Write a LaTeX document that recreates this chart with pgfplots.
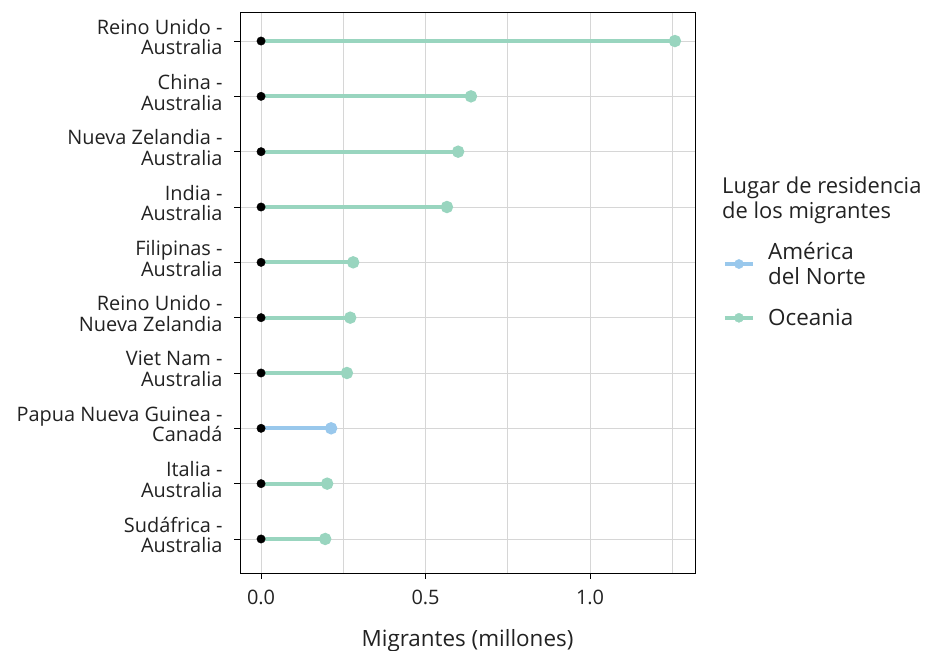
\documentclass[border=0pt]{standalone}
\usepackage{pgfplots}
\pgfplotsset{compat=1.18}
\usepackage{fontspec}
\setmainfont{Open Sans}
\definecolor{oce}{HTML}{99D5BF}
\definecolor{amn}{HTML}{99C8EC}
\definecolor{gridc}{HTML}{D6D6D6}
\definecolor{txt}{HTML}{222222}
\begin{document}
\begin{tikzpicture}[x=1bp,y=1bp]
\path[use as bounding box] (0,0) rectangle (925,651);
\begin{axis}[at={(240bp,78bp)}, anchor=south west, scale only axis,
  width=455bp, height=561bp,
  xmin=-0.064, xmax=1.319, ymin=0.385, ymax=10.525,
  xtick={0,0.5,1}, minor xtick={0.25,0.75,1.25},
  xticklabels={0.0,0.5,1.0},
  ytick={1,...,10},
  yticklabels={{Sudáfrica -\\Australia},{Italia -\\Australia},{Papua Nueva Guinea -\\Canadá},{Viet Nam -\\Australia},{Reino Unido -\\Nueva Zelandia},{Filipinas -\\Australia},{India -\\Australia},{Nueva Zelandia -\\Australia},{China -\\Australia},{Reino Unido -\\Australia}},
  xmajorgrids, xminorgrids, ymajorgrids,
  grid style={gridc, line width=0.9bp}, minor grid style={gridc, line width=0.9bp},
  axis line style={black, line width=0.9bp},
  tick style={black, line width=0.9bp},
  tick align=outside, major tick length=6bp, minor tick length=0bp,
  xtick pos=bottom, ytick pos=left,
  yticklabel style={align=right, font=\fontsize{20}{21}\selectfont, text=txt, xshift=-8bp, yshift=4bp},
  xticklabel style={font=\fontsize{20}{21}\selectfont, text=txt, yshift=-8bp},
  xlabel={Migrantes (millones)},
  xlabel style={font=\fontsize{22.5}{25}\selectfont, text=txt, yshift=-17bp},
  legend style={at={(1.055,0.597)}, anchor=north west, draw=none, fill=none,
    font=\fontsize{22.5}{25}\selectfont, text=txt, row sep=19bp,
    cells={align=left}},
  legend cell align=left,
]
\addlegendimage{legend image code/.code={\draw[amn, line width=3.5bp] (0bp,0bp) -- (28bp,0bp); \fill[amn] (14bp,0bp) circle (4.6bp); \path (41bp,0bp);}}
\addlegendentry{América\\del Norte}
\addlegendimage{legend image code/.code={\draw[oce, line width=3.5bp] (0bp,0bp) -- (28bp,0bp); \fill[oce] (14bp,0bp) circle (4.6bp); \path (41bp,0bp);}}
\addlegendentry{Oceania}
\addplot[xcomb, oce, line width=4bp, mark=*, mark size=4.1bp, mark options={fill=oce, draw=none}, forget plot]
 coordinates {(0.195,1) (0.201,2) (0.261,4) (0.271,5) (0.280,6) (0.565,7) (0.599,8) (0.638,9) (1.258,10)};
\addplot[xcomb, amn, line width=4bp, mark=*, mark size=4.1bp, mark options={fill=amn, draw=none}, forget plot]
 coordinates {(0.213,3)};
\addplot[only marks, mark=*, mark size=4.2bp, black, forget plot]
 coordinates {(0,1) (0,2) (0,3) (0,4) (0,5) (0,6) (0,7) (0,8) (0,9) (0,10)};
\end{axis}
\node[anchor=north west, align=left, font=\fontsize{22}{25}\selectfont, text=txt, inner sep=0pt] at (722,651-177) {Lugar de residencia\\de los migrantes};
\end{tikzpicture}
\end{document}
